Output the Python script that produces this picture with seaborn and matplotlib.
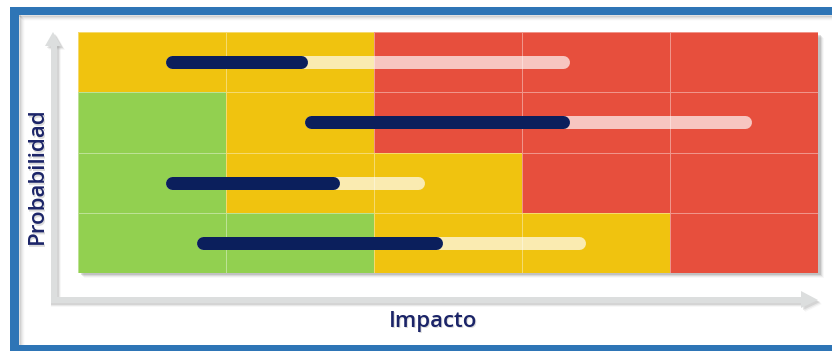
import numpy as np
import matplotlib
matplotlib.use("Agg")
import matplotlib.pyplot as plt
from matplotlib.colors import ListedColormap
from matplotlib.patches import Rectangle, Polygon
import seaborn as sns

# Risk matrix: probability rows (top = highest), impact columns (left = lowest)
# 0 = low (green), 1 = medium (yellow), 2 = high (red)
risk_levels = [
    [1, 1, 2, 2, 2],
    [0, 1, 2, 2, 2],
    [0, 1, 1, 2, 2],
    [0, 0, 1, 1, 2],
]
level_colors = ["#92D050", "#F0C30F", "#E74F3D"]

# Risk trajectories per row, in impact units (0-5): start, current, target
row_index = [0, 1, 2, 3]
start_impact = [0.59, 1.53, 0.59, 0.80]
current_impact = [1.55, 3.32, 1.77, 2.46]
target_impact = [3.32, 4.55, 2.34, 3.43]

x_label = "Impacto"
y_label = "Probabilidad"

W, H, DPI = 832, 351, 100
sns.set_theme(style="white")
plt.rcParams["font.family"] = ["Open Sans", "DejaVu Sans"]

fig = plt.figure(figsize=(W / DPI, H / DPI), dpi=DPI)
fig.patch.set_facecolor("white")

# Background canvas in pixel units for frame and axis arrows
bg = fig.add_axes([0, 0, 1, 1], zorder=0)
bg.set_xlim(0, W)
bg.set_ylim(H, 0)
bg.axis("off")

blue = "#2E75B6"
# inner shadow of the frame
for i, a in enumerate([0.22, 0.15, 0.09, 0.05, 0.02]):
    bg.add_patch(Rectangle((19 + i, 15 + i), 2, H, color="#7a7a7a", alpha=a, lw=0))
    bg.add_patch(Rectangle((19 + i, 15 + i), W, 2, color="#7a7a7a", alpha=a, lw=0))
bg.add_patch(Rectangle((10, 7), W, 8, color=blue, lw=0))
bg.add_patch(Rectangle((10, 7), 9, H, color=blue, lw=0))
bg.add_patch(Rectangle((10, 345), W, 10, color=blue, lw=0))

# grid drop shadow
for i, a in enumerate([0.18, 0.12, 0.07, 0.04]):
    bg.add_patch(Rectangle((81 + i, 35 + i), 740, 240, color="#555555", alpha=a, lw=0))

arrow_c = "#DCDEDE"
shadow_c = "#9a9a9a"
# arrow shadows
for i, a in enumerate([0.25, 0.15, 0.08]):
    off = 2 + i
    bg.add_patch(Rectangle((51 + off, 45), 6, 258, color=shadow_c, alpha=a, lw=0))
    bg.add_patch(Rectangle((51, 297 + off), 752, 6, color=shadow_c, alpha=a, lw=0))
    bg.add_patch(Polygon([[45 + off, 46 + off], [61 + off, 46 + off], [53 + off, 32 + off]],
                         color=shadow_c, alpha=a, lw=0))
    bg.add_patch(Polygon([[801 + off, 291 + off], [801 + off, 308 + off], [818 + off, 300 + off]],
                         color=shadow_c, alpha=a, lw=0))
# vertical arrow
bg.add_patch(Rectangle((51, 45), 6, 258, color=arrow_c, lw=0))
bg.add_patch(Polygon([[45, 46], [61, 46], [53, 32]], color=arrow_c, lw=0))
# horizontal arrow
bg.add_patch(Rectangle((51, 297), 752, 6, color=arrow_c, lw=0))
bg.add_patch(Polygon([[801, 291], [801, 308], [818, 300]], color=arrow_c, lw=0))

navy = "#1B2468"
for dx, c, a in [(1.5, "#888888", 0.3), (0, navy, 1.0)]:
    bg.text(433 + dx, 321 + dx, x_label, ha="center", va="center", fontsize=16,
            color=c, alpha=a, fontweight="semibold")
    bg.text(37 + dx, 176 + dx, y_label, ha="center", va="center", fontsize=16,
            color=c, alpha=a, rotation=90, fontweight="semibold")

# Heatmap axes
left, right, top, bottom = 78, 818, 32, 273
ax = fig.add_axes([left / W, 1 - bottom / H, (right - left) / W, (bottom - top) / H], zorder=2)
sns.heatmap(np.array(risk_levels), cmap=ListedColormap(level_colors), vmin=-0.5, vmax=2.5,
            cbar=False, linewidths=0.5, linecolor=(1, 1, 1, 0.4), ax=ax,
            xticklabels=False, yticklabels=False)
ax.set_xlabel("")
ax.set_ylabel("")

# round-capped bars: inset endpoints by cap radius so visible extent matches values
lw_px = 13
lw_pt = lw_px * 72 / DPI
ncols = len(risk_levels[0])
cap = (lw_px / 2) / ((right - left) / ncols)
for r, s, c, t in zip(row_index, start_impact, current_impact, target_impact):
    y = r + 0.5
    ax.plot([s + cap, t - cap], [y, y], color="white", alpha=0.68, lw=lw_pt,
            solid_capstyle="round", zorder=3)
    ax.plot([s + cap, c - cap], [y, y], color="#0B1F5C", lw=lw_pt,
            solid_capstyle="round", zorder=4)

fig.savefig("out.png", dpi=DPI)
